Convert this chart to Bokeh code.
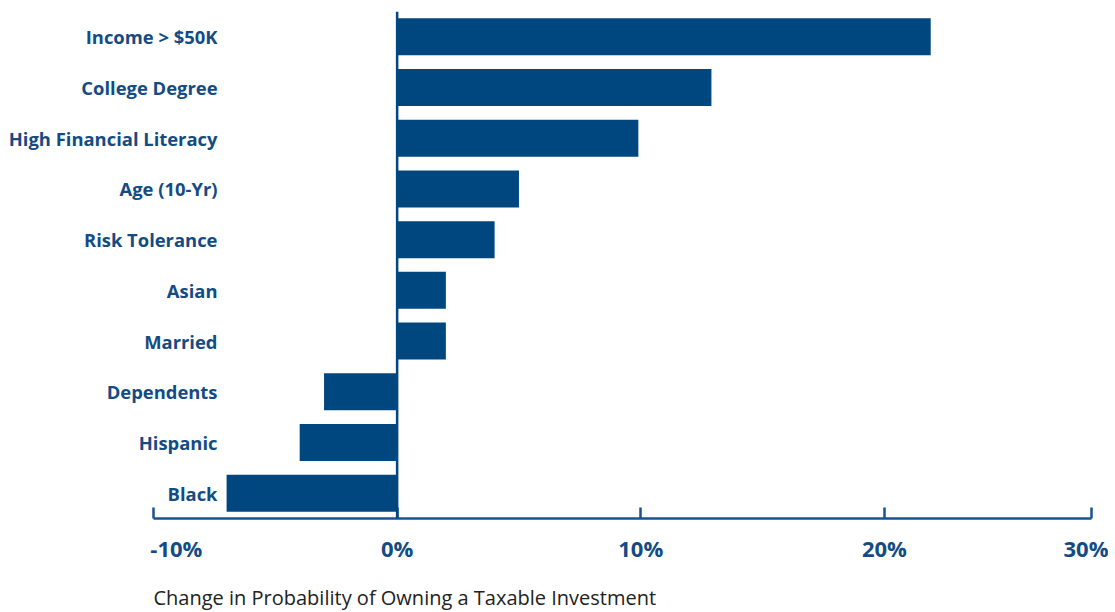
from bokeh.plotting import figure
from bokeh.models import FixedTicker, Span, ColumnDataSource, Title
from bokeh.embed import file_html
from bokeh.resources import INLINE

categories = ["Income > $50K", "College Degree", "High Financial Literacy", "Age (10-Yr)",
              "Risk Tolerance", "Asian", "Married", "Dependents", "Hispanic", "Black"]
changes = [21.9, 12.9, 9.9, 5.0, 4.0, 2.0, 2.0, -3.0, -4.0, -7.0]
tick_values = [-10, 0, 10, 20, 28.5]
tick_labels = ["-10%", "0%", "10%", "20%", "30%"]

BAR = "#00467f"
TXT = "#134b84"
FONT = "Open Sans"

y_order = list(reversed(categories))
src = ColumnDataSource(dict(cat=categories, val=changes))

p = figure(y_range=y_order, x_range=(-10, 28.5), frame_width=938, frame_height=507,
           min_border_left=153, min_border_right=17, min_border_top=11, min_border_bottom=0,
           output_backend="svg", toolbar_location=None, outline_line_color=None,
           background_fill_color="white", border_fill_color="white")
p.y_range.range_padding = 0

p.hbar(y="cat", left=0, right="val", height=0.73, source=src, color=BAR, line_color=None)
p.add_layout(Span(location=0, dimension="height", line_color=BAR, line_width=2.5))

p.grid.visible = False

yax = p.yaxis[0]
yax.axis_line_color = None
yax.major_tick_line_color = None
yax.minor_tick_line_color = None
yax.major_label_standoff = -70
yax.major_label_text_font = FONT
yax.major_label_text_font_style = "bold"
yax.major_label_text_font_size = "18.4px"
yax.major_label_text_color = TXT

ax = p.xaxis[0]
ax.ticker = FixedTicker(ticks=tick_values)
shown = ["\u00a0" * 8 + tick_labels[0]] + tick_labels[1:]
ax.major_label_overrides = {t: l for t, l in zip(tick_values, shown)}
ax.minor_tick_line_color = None
ax.major_tick_in = 11
ax.major_tick_out = 0
ax.axis_line_color = "#1a5290"
ax.axis_line_width = 2.5
ax.major_tick_line_color = "#1a5290"
ax.major_tick_line_width = 2.5
ax.major_label_standoff = 14
ax.major_label_text_font = FONT
ax.major_label_text_font_style = "bold"
ax.major_label_text_font_size = "22px"
ax.major_label_text_color = TXT

xtitle = Title(text="Change in Probability of Owning a Taxable Investment", align="left",
               text_font=FONT, text_font_style="normal", text_font_size="20px",
               text_color="#222222", standoff=32, offset=0)
p.add_layout(xtitle, "below")

open("out.html", "w").write(file_html(p, INLINE))
